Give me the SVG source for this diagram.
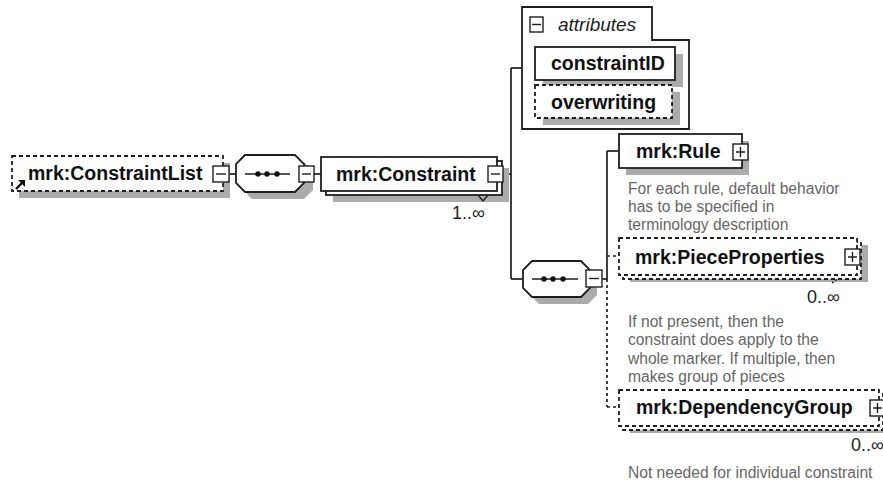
<svg xmlns="http://www.w3.org/2000/svg" width="883" height="485" viewBox="0 0 883 485">
  <style>
    .shadow { fill: #ababab; }
    .box { fill: #ffffff; stroke: #1e1e1e; stroke-width: 1.8; }
    .opt { stroke-dasharray: 4 3; }
    .btn { fill: #ffffff; stroke: #1e1e1e; stroke-width: 1.4; }
    .sign { stroke: #1e1e1e; stroke-width: 1.4; fill: none; }
    .name { font-family: "Liberation Sans", Arial, sans-serif; font-weight: bold; font-size: 19.5px; fill: #111111; }
    .occ { font-family: "Liberation Sans", Arial, sans-serif; font-size: 18px; fill: #222222; }
    .note { font-family: "Liberation Sans", Arial, sans-serif; font-size: 15.6px; fill: #666666; }
    .conn { stroke: #1e1e1e; stroke-width: 1.7; fill: none; }
    .dotted { stroke-dasharray: 3 3; }
  </style>

  <!-- connectors -->
  <g id="connectors">
    <line class="conn" x1="229" y1="174" x2="236" y2="174"/>
    <line class="conn" x1="314" y1="174" x2="321" y2="174"/>
    <line class="conn" x1="503" y1="174" x2="511" y2="174"/>
    <line class="conn" x1="511" y1="68" x2="511" y2="279"/>
    <line class="conn" x1="511" y1="68" x2="522" y2="68"/>
    <line class="conn" x1="511" y1="279" x2="523" y2="279"/>
    <line class="conn" x1="602" y1="279" x2="607" y2="279"/>
    <line class="conn" x1="607" y1="151" x2="607" y2="279"/>
    <line class="conn" x1="607" y1="151" x2="619" y2="151"/>
    <line class="conn dotted" x1="607" y1="256" x2="619" y2="256"/>
    <line class="conn dotted" x1="607" y1="279" x2="607" y2="407"/>
    <line class="conn dotted" x1="607" y1="407" x2="619" y2="407"/>
  </g>

  <!-- root reference element -->
  <g id="constraintList">
    <rect class="shadow" x="19" y="163" width="211" height="35"/>
    <rect class="box opt" x="12" y="156" width="211" height="35"/>
    <text class="name" x="28" y="180">mrk:ConstraintList</text>
    <path d="M16,189 L23,182" stroke="#111" stroke-width="2.4" fill="none"/>
    <path d="M18,180 L25,180 L25,187 Z" fill="#111"/>
    <rect class="btn" x="213" y="166" width="16" height="16"/>
    <line class="sign" x1="216" y1="174" x2="226" y2="174"/>
  </g>

  <!-- sequence compositor -->
  <g id="sequence1">
    <path class="shadow" d="M252,162 L304,162 L313,171 L313,190 L304,199 L252,199 L243,190 L243,171 Z"/>
    <path class="box" d="M245,155 L295,155 L304,164 L304,183 L295,192 L245,192 L236,183 L236,164 Z"/>
    <line class="sign" x1="245" y1="174" x2="290" y2="174"/>
    <circle cx="258" cy="174" r="2.7" fill="#111"/>
    <circle cx="267" cy="174" r="2.7" fill="#111"/>
    <circle cx="277" cy="174" r="2.7" fill="#111"/>
    <rect class="btn" x="299" y="166" width="15" height="16"/>
    <line class="sign" x1="302" y1="174" x2="311" y2="174"/>
  </g>

  <!-- repeated element -->
  <g id="constraint">
    <rect class="shadow" x="333" y="168" width="176" height="34"/>
    <rect class="box" x="326" y="161" width="176" height="34"/>
    <rect class="box" x="321" y="157" width="176" height="34"/>
    <text class="name" x="336" y="181">mrk:Constraint</text>
    <rect class="btn" x="488" y="166" width="15" height="16"/>
    <line class="sign" x1="491" y1="174" x2="500" y2="174"/>
    <path class="sign" d="M478,195 L483,201 L488,195" fill="#fff"/>
    <text class="occ" x="452" y="219">1..∞</text>
  </g>

  <!-- attributes panel -->
  <g id="attributes">
    <path class="box" d="M522,129 L522,7 L652,7 L652,40 L689,40 L689,129 Z"/>
    <rect class="btn" x="530" y="17" width="13" height="15"/>
    <line class="sign" x1="532" y1="24.5" x2="541" y2="24.5"/>
    <text x="558" y="31" font-family="Liberation Sans, Arial, sans-serif" font-style="italic" font-size="19px" fill="#222">attributes</text>
  </g>

  <g id="constraintID">
    <rect class="shadow" x="543" y="54" width="140" height="33"/>
    <rect class="box" x="535" y="47" width="140" height="33"/>
    <text class="name" x="551" y="70">constraintID</text>
  </g>

  <g id="overwriting">
    <rect class="shadow" x="543" y="92" width="137" height="33"/>
    <rect class="box opt" x="535" y="85" width="137" height="33"/>
    <text class="name" x="551" y="109">overwriting</text>
  </g>

  <!-- inner sequence compositor -->
  <g id="sequence2">
    <path class="shadow" d="M539,268 L588,268 L597,277 L597,295 L588,304 L539,304 L530,295 L530,277 Z"/>
    <path class="box" d="M532,261 L581,261 L590,270 L590,288 L581,297 L532,297 L523,288 L523,270 Z"/>
    <line class="sign" x1="532" y1="279" x2="578" y2="279"/>
    <circle cx="544" cy="279" r="2.7" fill="#111"/>
    <circle cx="553" cy="279" r="2.7" fill="#111"/>
    <circle cx="563" cy="279" r="2.7" fill="#111"/>
    <rect class="btn" x="586" y="270" width="16" height="17"/>
    <line class="sign" x1="589" y1="278.5" x2="599" y2="278.5"/>
  </g>

  <g id="rule">
    <rect class="shadow" x="626" y="141" width="123" height="34"/>
    <rect class="box" x="619" y="134" width="123" height="34"/>
    <text class="name" x="636" y="158">mrk:Rule</text>
    <rect class="btn" x="733" y="144" width="15" height="16"/>
    <path class="sign" d="M736,152 L745,152 M740.5,147 L740.5,157"/>
    <text class="note" x="628" y="194">For each rule, default behavior</text>
    <text class="note" x="628" y="212">has to be specified in</text>
    <text class="note" x="628" y="230">terminology description</text>
  </g>

  <g id="pieceProperties">
    <rect class="shadow" x="630" y="245" width="238" height="37"/>
    <rect class="box opt" x="623" y="242" width="238" height="37"/>
    <rect class="box opt" x="619" y="238" width="238" height="37"/>
    <text class="name" x="635" y="264">mrk:PieceProperties</text>
    <rect class="btn" x="845" y="249" width="15" height="16"/>
    <path class="sign" d="M848,257 L857,257 M852.5,252 L852.5,262"/>
    <path class="sign" d="M832,283 L839,278" stroke-dasharray="2 2"/>
    <text class="occ" x="807" y="303">0..∞</text>
    <text class="note" x="628" y="327">If not present, then the</text>
    <text class="note" x="628" y="345">constraint does apply to the</text>
    <text class="note" x="628" y="364">whole marker. If multiple, then</text>
    <text class="note" x="628" y="382">makes group of pieces</text>
  </g>

  <g id="dependencyGroup">
    <rect class="shadow" x="630" y="397" width="260" height="36"/>
    <rect class="box opt" x="623" y="394" width="260" height="36"/>
    <rect class="box opt" x="619" y="390" width="260" height="36"/>
    <text class="name" x="636" y="414">mrk:DependencyGroup</text>
    <rect class="btn" x="870" y="400" width="15" height="16"/>
    <path class="sign" d="M873,408 L882,408 M877.5,403 L877.5,413"/>
    <text class="occ" x="851" y="451">0..∞</text>
    <text class="note" x="628" y="478">Not needed for individual constraint</text>
  </g>
</svg>
